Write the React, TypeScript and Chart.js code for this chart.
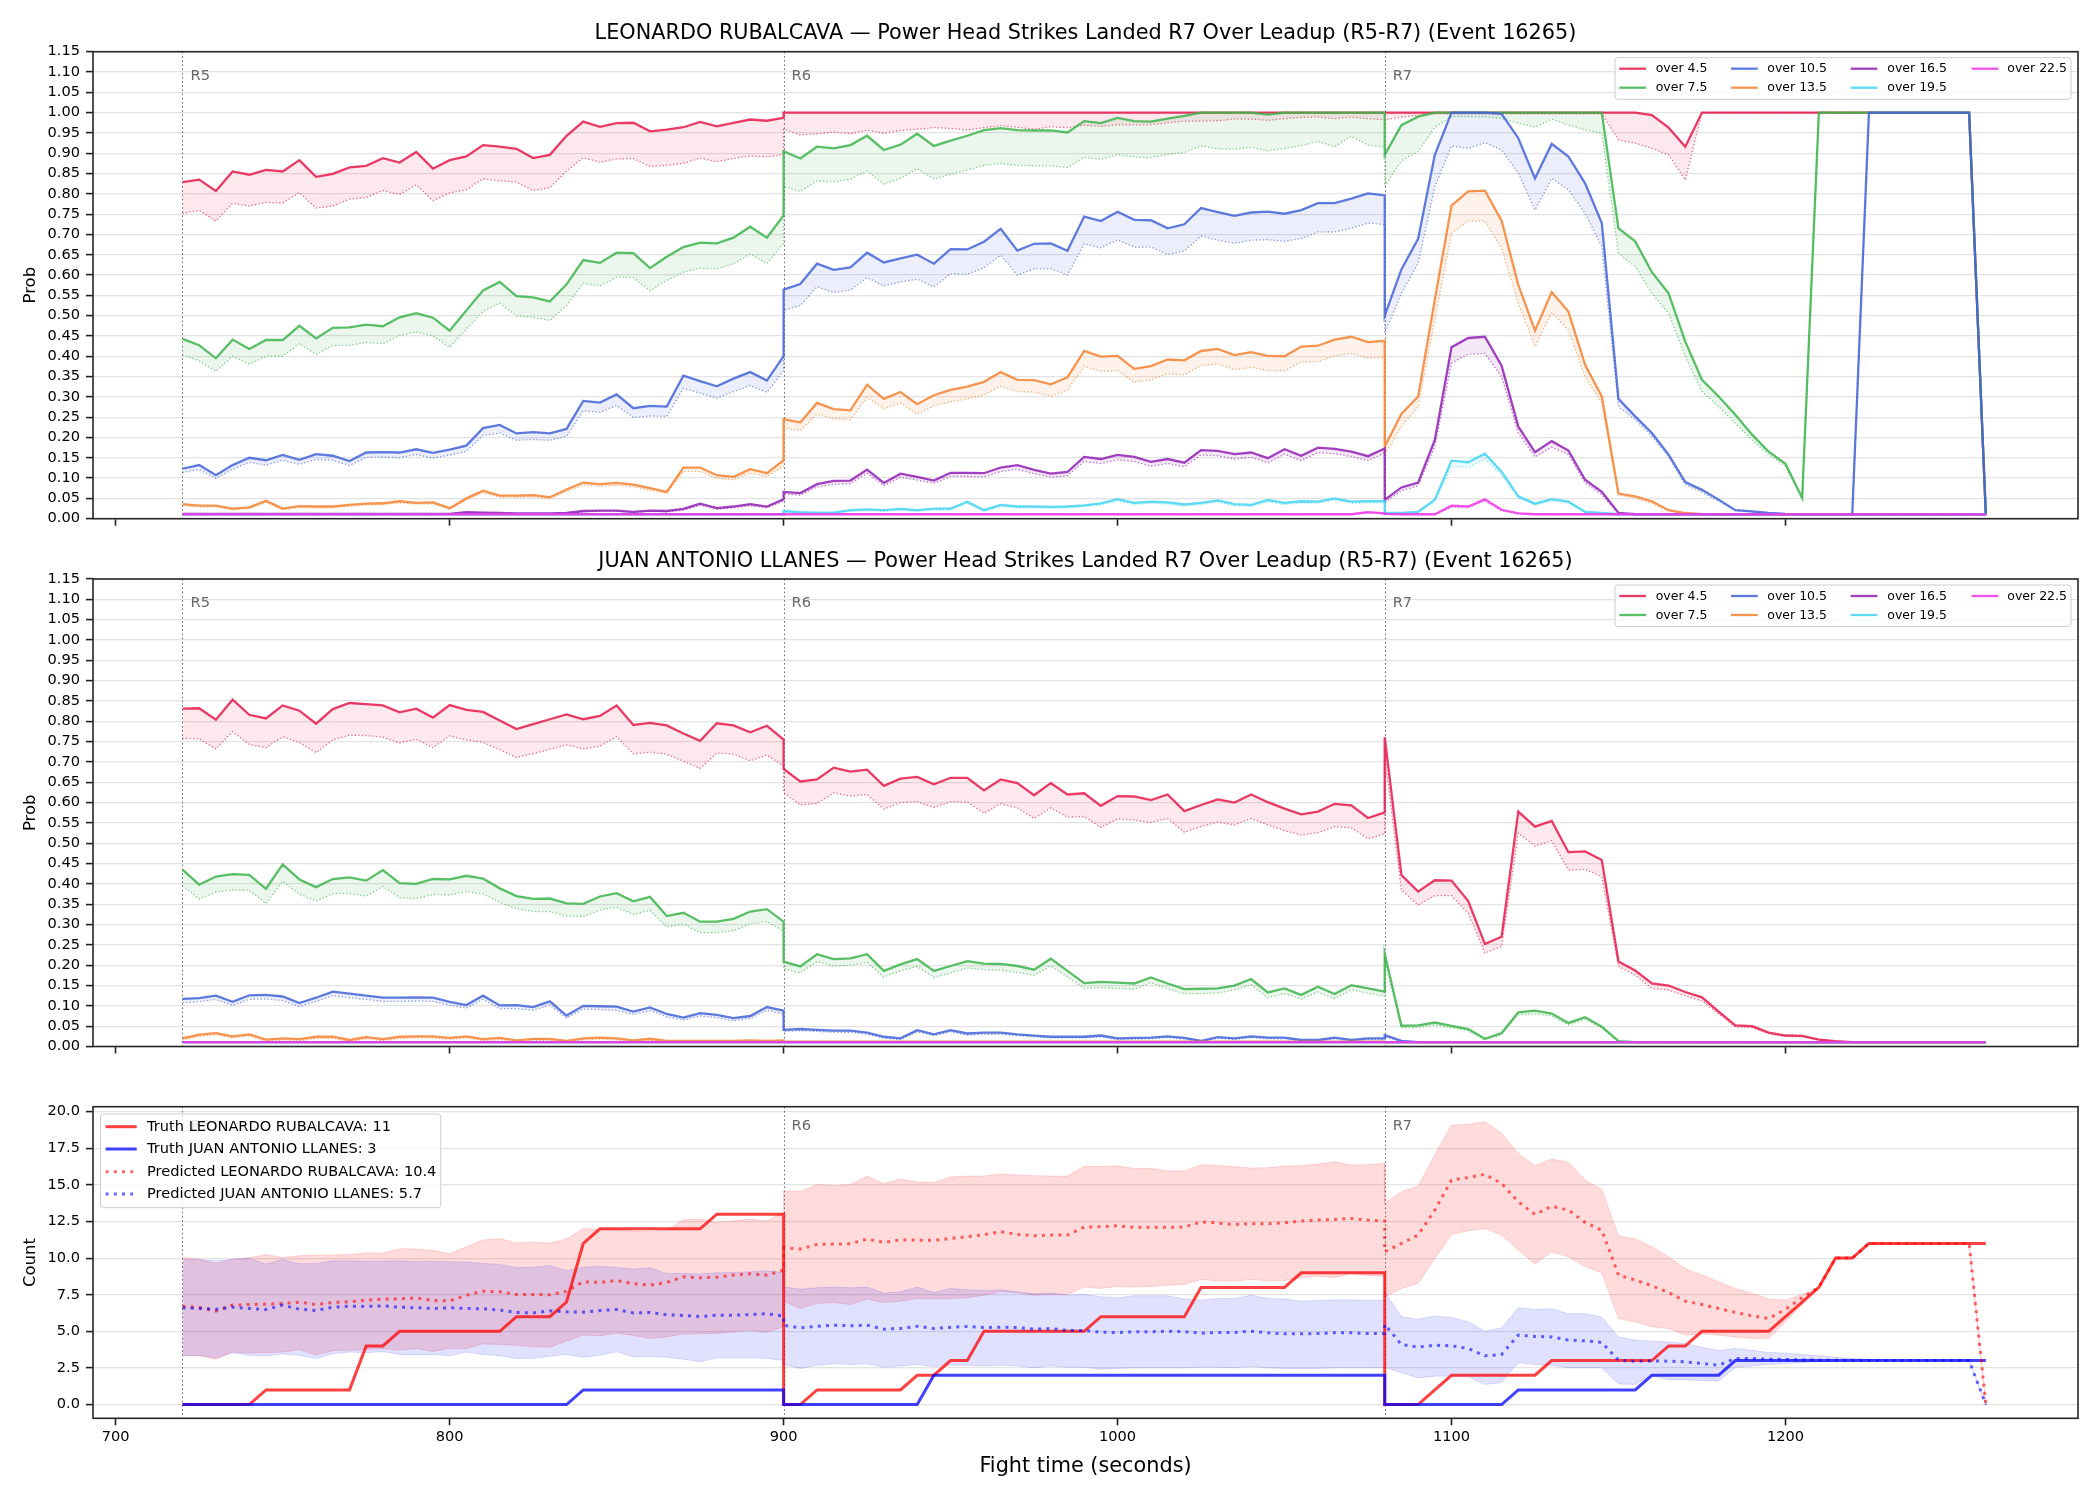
import React, { useEffect, useRef } from "react";
import { Chart, registerables } from "chart.js";
Chart.register(...registerables);

// ---------------- helpers ----------------
const rep = (v: number, n: number): number[] => Array.from({ length: n }, () => v);

// ---------------- x grid / labels ----------------
const FIGHTER_A = "LEONARDO RUBALCAVA";
const FIGHTER_B = "JUAN ANTONIO LLANES";
const TITLE_SUFFIX = "Power Head Strikes Landed R7 Over Leadup (R5-R7) (Event 16265)";
const ROUND_STARTS = [720, 900, 1080];
const ROUND_LABELS = ["R5", "R6", "R7"];
const STEP_SEC = 5;
const POINTS_PER_ROUND = 37;
const TIMES: number[] = [];
ROUND_STARTS.forEach((s) => {
  for (let i = 0; i < POINTS_PER_ROUND; i++) TIMES.push(s + i * STEP_SEC);
});
const X_TICKS = [700, 800, 900, 1000, 1100, 1200];
const PROB_TICKS = [0, 0.05, 0.1, 0.15, 0.2, 0.25, 0.3, 0.35, 0.4, 0.45, 0.5, 0.55, 0.6, 0.65, 0.7, 0.75, 0.8, 0.85, 0.9, 0.95, 1.0, 1.05, 1.1, 1.15];
const COUNT_TICKS = [0, 2.5, 5, 7.5, 10, 12.5, 15, 17.5, 20];

const SERIES_LABELS = ["over 4.5", "over 7.5", "over 10.5", "over 13.5", "over 16.5", "over 19.5", "over 22.5"];
const SERIES_COLORS = ["#e6194B", "#3cb44b", "#4363d8", "#f58231", "#911eb4", "#42d4f4", "#f032e6"];

// ---------------- Panel 1: LEONARDO RUBALCAVA (R5 | R6 | R7) ----------------
const LEO_O45_HI = [
  0.829, 0.835, 0.807, 0.855, 0.847, 0.859, 0.855, 0.883, 0.842, 0.849, 0.865, 0.869, 0.888, 0.877, 0.903, 0.862, 0.883, 0.892, 0.920, 0.916, 0.911, 0.888, 0.896, 0.943, 0.978, 0.965, 0.974, 0.975, 0.954, 0.958, 0.964, 0.977, 0.966, 0.975, 0.983, 0.980, 0.987,
  ...rep(1.0, 37),
  ...rep(1.0, 16), 0.994, 0.963, 0.916, ...rep(1.0, 17), 0.01,
];
const LEO_O45_LO = [
  0.752, 0.759, 0.733, 0.777, 0.770, 0.779, 0.777, 0.803, 0.765, 0.770, 0.787, 0.791, 0.808, 0.798, 0.822, 0.783, 0.802, 0.810, 0.837, 0.832, 0.829, 0.808, 0.815, 0.856, 0.889, 0.878, 0.886, 0.887, 0.867, 0.870, 0.875, 0.888, 0.879, 0.887, 0.893, 0.891, 0.897,
  0.959, 0.945, 0.948, 0.952, 0.948, 0.957, 0.949, 0.956, 0.959, 0.963, 0.961, 0.957, 0.963, 0.968, 0.964, 0.959, 0.965, 0.963, 0.969, 0.966, 0.970, 0.970, 0.970, 0.975, 0.979, 0.979, 0.980, 0.984, 0.984, 0.981, 0.985, 0.988, 0.989, 0.985, 0.989, 0.985, 0.982,
  0.982, 0.989, 0.993, ...rep(0.997, 11), 0.933, 0.925, 0.912, 0.896, 0.834, ...rep(1.0, 17), 0.01,
];
const LEO_O75_HI = [
  0.443, 0.427, 0.395, 0.441, 0.418, 0.440, 0.440, 0.475, 0.444, 0.470, 0.471, 0.478, 0.474, 0.496, 0.506, 0.495, 0.463, 0.513, 0.562, 0.583, 0.548, 0.545, 0.535, 0.577, 0.637, 0.630, 0.655, 0.654, 0.617, 0.645, 0.669, 0.680, 0.678, 0.692, 0.719, 0.692, 0.747,
  0.905, 0.887, 0.916, 0.912, 0.920, 0.943, 0.908, 0.921, 0.948, 0.918, 0.931, 0.943, 0.957, 0.962, 0.957, 0.956, 0.956, 0.951, 0.979, 0.974, 0.987, 0.979, 0.978, 0.985, 0.992, 1.0, 1.0, 1.0, 1.0, 0.995, 1.0, 1.0, 1.0, 1.0, 1.0, 1.0, 1.0,
  0.896, 0.969, 0.990, ...rep(1.0, 11), 0.715, 0.683, 0.607, 0.555, 0.436, 0.342, 0.301, 0.256, 0.207, 0.165, 0.135, 0.051, ...rep(1.0, 10), 0.01,
];
const LEO_O75_LO = [
  0.403, 0.389, 0.363, 0.400, 0.381, 0.400, 0.400, 0.431, 0.405, 0.427, 0.427, 0.434, 0.431, 0.451, 0.460, 0.450, 0.422, 0.467, 0.510, 0.531, 0.499, 0.496, 0.488, 0.525, 0.580, 0.573, 0.595, 0.594, 0.561, 0.587, 0.607, 0.617, 0.615, 0.628, 0.652, 0.628, 0.678,
  0.818, 0.806, 0.832, 0.829, 0.836, 0.856, 0.824, 0.838, 0.862, 0.836, 0.848, 0.859, 0.870, 0.875, 0.870, 0.869, 0.869, 0.865, 0.890, 0.885, 0.897, 0.891, 0.889, 0.897, 0.902, 0.918, 0.911, 0.910, 0.915, 0.906, 0.912, 0.919, 0.929, 0.916, 0.942, 0.920, 0.915,
  0.818, 0.882, 0.904, 0.964, 0.990, 0.990, 0.989, 0.986, 0.974, 0.964, 0.984, 0.970, 0.957, 0.949, 0.654, 0.621, 0.555, 0.506, 0.400, 0.313, 0.276, 0.235, 0.194, 0.158, 0.129, 0.051, ...rep(1.0, 10), 0.01,
];
const LEO_O105_HI = [
  0.123, 0.132, 0.107, 0.132, 0.150, 0.144, 0.157, 0.145, 0.159, 0.155, 0.142, 0.163, 0.164, 0.163, 0.171, 0.162, 0.170, 0.180, 0.223, 0.231, 0.210, 0.213, 0.210, 0.221, 0.290, 0.286, 0.306, 0.272, 0.278, 0.276, 0.352, 0.339, 0.326, 0.345, 0.361, 0.340, 0.400,
  0.564, 0.578, 0.628, 0.613, 0.619, 0.655, 0.631, 0.641, 0.650, 0.628, 0.664, 0.663, 0.682, 0.714, 0.660, 0.677, 0.678, 0.660, 0.744, 0.733, 0.756, 0.736, 0.735, 0.715, 0.725, 0.765, 0.755, 0.746, 0.754, 0.756, 0.751, 0.760, 0.777, 0.777, 0.788, 0.801, 0.796,
  0.500, 0.614, 0.689, 0.896, 1.0, 1.0, 1.0, 0.997, 0.937, 0.838, 0.923, 0.892, 0.826, 0.728, 0.295, 0.252, 0.211, 0.158, 0.090, 0.071, 0.047, 0.021, 0.018, 0.014, 0.012, 0.011, 0.011, 0.011, 0.011, ...rep(1.0, 7), 0.01,
];
const LEO_O105_LO = [
  0.114, 0.121, 0.099, 0.122, 0.139, 0.132, 0.144, 0.134, 0.146, 0.144, 0.131, 0.151, 0.152, 0.150, 0.158, 0.149, 0.157, 0.166, 0.205, 0.211, 0.193, 0.195, 0.193, 0.203, 0.266, 0.262, 0.279, 0.249, 0.253, 0.252, 0.321, 0.309, 0.297, 0.313, 0.328, 0.311, 0.365,
  0.513, 0.525, 0.571, 0.557, 0.563, 0.594, 0.573, 0.583, 0.590, 0.571, 0.603, 0.602, 0.618, 0.649, 0.600, 0.615, 0.616, 0.600, 0.677, 0.667, 0.687, 0.669, 0.669, 0.651, 0.659, 0.696, 0.686, 0.678, 0.686, 0.687, 0.683, 0.690, 0.706, 0.706, 0.715, 0.728, 0.724,
  0.457, 0.555, 0.629, 0.818, 0.918, 0.912, 0.926, 0.908, 0.851, 0.760, 0.838, 0.810, 0.752, 0.670, 0.276, 0.244, 0.203, 0.153, 0.084, 0.065, 0.043, 0.020, 0.016, 0.013, 0.011, 0.010, 0.010, 0.010, 0.010, ...rep(1.0, 7), 0.01,
];
const LEO_O135_HI = [
  0.036, 0.032, 0.032, 0.025, 0.028, 0.044, 0.025, 0.031, 0.030, 0.030, 0.034, 0.037, 0.038, 0.043, 0.039, 0.040, 0.026, 0.050, 0.069, 0.057, 0.057, 0.058, 0.053, 0.072, 0.089, 0.085, 0.088, 0.084, 0.075, 0.066, 0.126, 0.126, 0.107, 0.103, 0.122, 0.112, 0.144,
  0.245, 0.237, 0.285, 0.270, 0.267, 0.330, 0.295, 0.312, 0.282, 0.304, 0.317, 0.325, 0.337, 0.361, 0.342, 0.341, 0.331, 0.348, 0.413, 0.399, 0.401, 0.369, 0.376, 0.392, 0.390, 0.413, 0.418, 0.403, 0.410, 0.401, 0.400, 0.424, 0.426, 0.441, 0.448, 0.435, 0.438,
  0.178, 0.258, 0.301, 0.539, 0.771, 0.806, 0.808, 0.734, 0.576, 0.463, 0.558, 0.510, 0.379, 0.301, 0.062, 0.055, 0.043, 0.021, 0.014, ...rep(0.011, 17), 0.01,
];
const LEO_O135_LO = [
  0.032, 0.029, 0.029, 0.022, 0.025, 0.040, 0.022, 0.028, 0.027, 0.027, 0.031, 0.034, 0.035, 0.039, 0.036, 0.036, 0.023, 0.046, 0.064, 0.053, 0.053, 0.054, 0.049, 0.067, 0.083, 0.080, 0.082, 0.079, 0.070, 0.062, 0.116, 0.117, 0.099, 0.096, 0.113, 0.104, 0.130,
  0.223, 0.217, 0.258, 0.246, 0.244, 0.299, 0.271, 0.285, 0.258, 0.278, 0.288, 0.295, 0.305, 0.326, 0.313, 0.312, 0.301, 0.317, 0.375, 0.363, 0.365, 0.336, 0.342, 0.357, 0.354, 0.377, 0.381, 0.367, 0.373, 0.365, 0.364, 0.386, 0.387, 0.401, 0.407, 0.395, 0.398,
  0.158, 0.227, 0.276, 0.490, 0.703, 0.733, 0.733, 0.666, 0.531, 0.424, 0.508, 0.465, 0.350, 0.285, 0.057, 0.051, 0.037, 0.019, 0.013, ...rep(0.010, 18),
];
const LEO_O165_HI = [
  ...rep(0.012, 17), 0.016, 0.015, 0.014, 0.013, 0.013, 0.013, 0.014, 0.019, 0.020, 0.020, 0.017, 0.020, 0.019, 0.024, 0.037, 0.026, 0.030, 0.036, 0.030, 0.048,
  0.066, 0.063, 0.085, 0.093, 0.094, 0.121, 0.088, 0.111, 0.103, 0.094, 0.113, 0.113, 0.112, 0.126, 0.132, 0.120, 0.111, 0.115, 0.152, 0.147, 0.157, 0.152, 0.140, 0.147, 0.138, 0.169, 0.167, 0.159, 0.163, 0.149, 0.171, 0.155, 0.175, 0.172, 0.165, 0.154, 0.173,
  0.046, 0.077, 0.089, 0.194, 0.422, 0.445, 0.448, 0.377, 0.227, 0.164, 0.191, 0.168, 0.096, 0.066, 0.014, ...rep(0.011, 21), 0.01,
];
const LEO_O165_LO = [
  ...rep(0.011, 17), 0.014, 0.013, 0.012, 0.012, 0.012, 0.012, 0.013, 0.017, 0.018, 0.018, 0.015, 0.018, 0.017, 0.021, 0.033, 0.023, 0.027, 0.032, 0.027, 0.043,
  0.061, 0.058, 0.078, 0.085, 0.086, 0.112, 0.081, 0.102, 0.095, 0.087, 0.104, 0.104, 0.103, 0.116, 0.122, 0.111, 0.102, 0.106, 0.141, 0.136, 0.145, 0.141, 0.129, 0.136, 0.128, 0.157, 0.155, 0.147, 0.151, 0.138, 0.159, 0.143, 0.163, 0.160, 0.153, 0.143, 0.162,
  0.039, 0.069, 0.081, 0.178, 0.383, 0.405, 0.407, 0.350, 0.211, 0.152, 0.176, 0.158, 0.088, 0.059, 0.013, ...rep(0.010, 22),
];
const LEO_O195_HI = [
  ...rep(0.011, 37),
  0.019, 0.016, 0.015, 0.015, 0.021, 0.023, 0.021, 0.024, 0.021, 0.025, 0.025, 0.042, 0.021, 0.034, 0.030, 0.030, 0.029, 0.030, 0.033, 0.038, 0.048, 0.039, 0.042, 0.040, 0.035, 0.039, 0.045, 0.036, 0.034, 0.046, 0.039, 0.043, 0.042, 0.050, 0.042, 0.043, 0.043,
  0.014, 0.014, 0.017, 0.047, 0.143, 0.139, 0.160, 0.116, 0.055, 0.037, 0.048, 0.042, 0.017, 0.014, ...rep(0.011, 22), 0.01,
];
const LEO_O195_LO = [
  ...rep(0.010, 37),
  0.016, 0.014, 0.013, 0.013, 0.018, 0.020, 0.018, 0.021, 0.018, 0.022, 0.022, 0.038, 0.018, 0.030, 0.027, 0.027, 0.026, 0.027, 0.030, 0.034, 0.044, 0.035, 0.038, 0.036, 0.031, 0.035, 0.041, 0.032, 0.030, 0.042, 0.035, 0.039, 0.038, 0.046, 0.038, 0.039, 0.039,
  0.012, 0.012, 0.015, 0.042, 0.129, 0.127, 0.147, 0.108, 0.051, 0.034, 0.044, 0.039, 0.015, 0.012, ...rep(0.010, 23),
];
const LEO_O225_HI = [
  ...rep(0.011, 37),
  ...rep(0.011, 35), 0.016, 0.013,
  0.012, 0.011, 0.011, 0.011, 0.032, 0.030, 0.048, 0.022, 0.013, ...rep(0.011, 27), 0.01,
];
const LEO_O225_LO = [
  ...rep(0.010, 37),
  ...rep(0.010, 35), 0.014, 0.012,
  0.011, 0.010, 0.010, 0.010, 0.028, 0.027, 0.043, 0.019, 0.012, ...rep(0.010, 28),
];

// ---------------- Panel 2: JUAN ANTONIO LLANES (R5 | R6 | R7) ----------------
const JUA_O45_HI = [
  0.831, 0.832, 0.804, 0.853, 0.816, 0.807, 0.839, 0.826, 0.794, 0.830, 0.845, 0.842, 0.839, 0.822, 0.831, 0.809, 0.840, 0.828, 0.823, 0.802, 0.781, 0.793, 0.805, 0.817, 0.805, 0.813, 0.839, 0.791, 0.796, 0.790, 0.770, 0.752, 0.795, 0.790, 0.773, 0.789, 0.755,
  0.683, 0.652, 0.657, 0.686, 0.676, 0.681, 0.641, 0.659, 0.663, 0.645, 0.661, 0.661, 0.630, 0.657, 0.648, 0.618, 0.648, 0.620, 0.623, 0.592, 0.616, 0.615, 0.606, 0.620, 0.579, 0.594, 0.608, 0.600, 0.620, 0.601, 0.585, 0.571, 0.578, 0.597, 0.593, 0.562, 0.576,
  0.761, 0.422, 0.381, 0.409, 0.408, 0.358, 0.252, 0.270, 0.578, 0.541, 0.555, 0.478, 0.480, 0.459, 0.209, 0.187, 0.155, 0.150, 0.134, 0.121, 0.086, 0.052, 0.050, 0.034, 0.027, 0.026, 0.017, 0.013, ...rep(0.011, 9),
];
const JUA_O45_LO = [
  0.758, 0.757, 0.732, 0.775, 0.743, 0.735, 0.762, 0.748, 0.723, 0.754, 0.766, 0.765, 0.761, 0.747, 0.756, 0.735, 0.764, 0.754, 0.748, 0.730, 0.711, 0.720, 0.731, 0.742, 0.732, 0.739, 0.762, 0.720, 0.724, 0.719, 0.702, 0.684, 0.722, 0.719, 0.703, 0.717, 0.689,
  0.625, 0.594, 0.598, 0.624, 0.616, 0.620, 0.584, 0.600, 0.602, 0.588, 0.602, 0.601, 0.574, 0.597, 0.587, 0.561, 0.587, 0.564, 0.566, 0.539, 0.560, 0.557, 0.551, 0.561, 0.527, 0.541, 0.552, 0.545, 0.561, 0.545, 0.531, 0.520, 0.526, 0.541, 0.538, 0.511, 0.523,
  0.710, 0.385, 0.348, 0.371, 0.371, 0.328, 0.230, 0.246, 0.525, 0.493, 0.506, 0.434, 0.436, 0.418, 0.197, 0.176, 0.143, 0.139, 0.125, 0.112, 0.080, 0.048, 0.047, 0.031, 0.025, 0.024, 0.016, 0.012, ...rep(0.010, 9),
];
const JUA_O75_HI = [
  0.435, 0.398, 0.418, 0.424, 0.422, 0.388, 0.448, 0.411, 0.392, 0.412, 0.416, 0.408, 0.434, 0.402, 0.400, 0.412, 0.411, 0.420, 0.413, 0.389, 0.370, 0.363, 0.364, 0.352, 0.351, 0.369, 0.377, 0.357, 0.368, 0.321, 0.329, 0.307, 0.307, 0.314, 0.332, 0.338, 0.307,
  0.209, 0.197, 0.227, 0.215, 0.217, 0.227, 0.186, 0.202, 0.215, 0.186, 0.198, 0.210, 0.204, 0.203, 0.198, 0.189, 0.216, 0.186, 0.156, 0.159, 0.157, 0.155, 0.170, 0.155, 0.141, 0.142, 0.143, 0.150, 0.166, 0.133, 0.143, 0.127, 0.147, 0.129, 0.151, 0.143, 0.135,
  0.228, 0.051, 0.052, 0.059, 0.051, 0.043, 0.019, 0.033, 0.084, 0.088, 0.081, 0.058, 0.072, 0.049, 0.013, ...rep(0.011, 22),
];
const JUA_O75_LO = [
  0.396, 0.363, 0.380, 0.385, 0.384, 0.352, 0.406, 0.375, 0.358, 0.376, 0.377, 0.370, 0.394, 0.366, 0.364, 0.374, 0.373, 0.381, 0.375, 0.355, 0.339, 0.332, 0.332, 0.321, 0.320, 0.336, 0.343, 0.325, 0.335, 0.294, 0.301, 0.280, 0.280, 0.285, 0.302, 0.307, 0.284,
  0.191, 0.181, 0.209, 0.198, 0.200, 0.207, 0.171, 0.186, 0.197, 0.170, 0.181, 0.193, 0.189, 0.188, 0.182, 0.175, 0.198, 0.172, 0.143, 0.145, 0.143, 0.141, 0.157, 0.142, 0.130, 0.130, 0.132, 0.139, 0.152, 0.120, 0.130, 0.117, 0.134, 0.118, 0.139, 0.131, 0.124,
  0.210, 0.046, 0.047, 0.053, 0.046, 0.039, 0.016, 0.029, 0.078, 0.080, 0.075, 0.053, 0.067, 0.045, 0.012, ...rep(0.010, 22),
];
const JUA_O105_HI = [
  0.117, 0.119, 0.125, 0.110, 0.126, 0.127, 0.123, 0.107, 0.120, 0.135, 0.130, 0.125, 0.120, 0.120, 0.121, 0.120, 0.110, 0.102, 0.125, 0.101, 0.102, 0.097, 0.111, 0.076, 0.100, 0.099, 0.098, 0.086, 0.096, 0.080, 0.071, 0.082, 0.078, 0.070, 0.075, 0.097, 0.088,
  0.041, 0.043, 0.041, 0.039, 0.039, 0.034, 0.024, 0.020, 0.040, 0.030, 0.040, 0.032, 0.034, 0.034, 0.030, 0.027, 0.024, 0.024, 0.024, 0.027, 0.020, 0.021, 0.022, 0.025, 0.021, 0.014, 0.023, 0.020, 0.025, 0.022, 0.022, 0.016, 0.016, 0.022, 0.016, 0.020, 0.020,
  0.028, 0.014, ...rep(0.011, 35),
];
const JUA_O105_LO = [
  0.108, 0.110, 0.116, 0.101, 0.116, 0.117, 0.113, 0.098, 0.111, 0.125, 0.120, 0.116, 0.111, 0.111, 0.112, 0.111, 0.102, 0.094, 0.116, 0.093, 0.093, 0.089, 0.102, 0.070, 0.092, 0.091, 0.089, 0.079, 0.088, 0.073, 0.065, 0.075, 0.071, 0.063, 0.069, 0.089, 0.080,
  0.037, 0.039, 0.037, 0.035, 0.035, 0.030, 0.021, 0.017, 0.036, 0.027, 0.036, 0.028, 0.030, 0.030, 0.027, 0.024, 0.021, 0.021, 0.021, 0.024, 0.017, 0.018, 0.019, 0.022, 0.018, 0.012, 0.020, 0.017, 0.022, 0.019, 0.019, 0.014, 0.014, 0.019, 0.014, 0.017, 0.017,
  0.024, 0.012, ...rep(0.010, 35),
];
const JUA_O135_HI = [
  0.020, 0.029, 0.033, 0.025, 0.030, 0.017, 0.020, 0.018, 0.024, 0.024, 0.016, 0.023, 0.018, 0.024, 0.025, 0.025, 0.021, 0.025, 0.018, 0.021, 0.015, 0.019, 0.019, 0.014, 0.020, 0.022, 0.020, 0.015, 0.019, 0.014, 0.014, 0.014, 0.014, 0.014, 0.015, 0.014, 0.015,
  ...rep(0.012, 37),
  ...rep(0.011, 37),
];
const JUA_O135_LO = [
  0.016, 0.025, 0.029, 0.021, 0.026, 0.013, 0.016, 0.014, 0.020, 0.020, 0.012, 0.019, 0.014, 0.020, 0.021, 0.021, 0.017, 0.021, 0.014, 0.017, 0.011, 0.015, 0.015, 0.011, 0.016, 0.018, 0.016, 0.011, 0.015, 0.011, 0.011, 0.011, 0.011, 0.011, 0.012, 0.011, 0.012,
  ...rep(0.010, 37),
  ...rep(0.010, 37),
];
const JUA_O165_HI = [...rep(0.011, 37), ...rep(0.011, 37), ...rep(0.011, 37)];
const JUA_O165_LO = [...rep(0.010, 37), ...rep(0.010, 37), ...rep(0.010, 37)];
const JUA_O195_HI = [...rep(0.011, 37), ...rep(0.011, 37), ...rep(0.011, 37)];
const JUA_O195_LO = [...rep(0.010, 37), ...rep(0.010, 37), ...rep(0.010, 37)];
const JUA_O225_HI = [...rep(0.011, 37), ...rep(0.011, 37), ...rep(0.011, 37)];
const JUA_O225_LO = [...rep(0.010, 37), ...rep(0.010, 37), ...rep(0.010, 37)];

// ---------------- Panel 3: counts ----------------
const TRUTH_A = [
  0, 0, 0, 0, 0, 1, 1, 1, 1, 1, 1, 4, 4, 5, 5, 5, 5, 5, 5, 5, 6, 6, 6, 7, 11, 12, 12, 12, 12, 12, 12, 12, 13, 13, 13, 13, 13,
  0, 0, 1, 1, 1, 1, 1, 1, 2, 2, 3, 3, 5, 5, 5, 5, 5, 5, 5, 6, 6, 6, 6, 6, 6, 8, 8, 8, 8, 8, 8, 9, 9, 9, 9, 9, 9,
  0, 0, 0, 1, 2, 2, 2, 2, 2, 2, 3, 3, 3, 3, 3, 3, 3, 4, 4, 5, 5, 5, 5, 5, 6, 7, 8, 10, 10, 11, 11, 11, 11, 11, 11, 11, 11,
];
const TRUTH_B = [
  ...rep(0, 24), ...rep(1, 13),
  ...rep(0, 9), ...rep(2, 28),
  ...rep(0, 8), ...rep(1, 8), ...rep(2, 5), ...rep(3, 16),
];
const PRED_A = [
  6.70, 6.63, 6.38, 6.79, 6.83, 6.86, 6.90, 6.99, 6.83, 6.97, 7.02, 7.13, 7.20, 7.22, 7.27, 7.11, 7.08, 7.47, 7.74, 7.70, 7.52, 7.52, 7.49, 7.74, 8.38, 8.34, 8.47, 8.25, 8.15, 8.34, 8.72, 8.66, 8.70, 8.84, 8.93, 8.84, 9.18,
  10.71, 10.62, 10.93, 10.96, 10.98, 11.30, 11.07, 11.25, 11.23, 11.21, 11.34, 11.46, 11.59, 11.80, 11.62, 11.53, 11.57, 11.57, 12.12, 12.14, 12.21, 12.10, 12.10, 12.10, 12.12, 12.48, 12.39, 12.30, 12.35, 12.35, 12.41, 12.53, 12.60, 12.64, 12.71, 12.60, 12.53,
  10.43, 11.00, 11.57, 13.28, 15.33, 15.50, 15.72, 15.10, 13.85, 12.98, 13.55, 13.28, 12.44, 11.91, 8.84, 8.50, 8.11, 7.65, 7.06, 6.83, 6.56, 6.29, 6.06, 5.88, 6.50, 7.30, 8.00, 10, 10, 11, 11, 11, 11, 11, 11, 11, 0,
];
const PRED_A_HI = [
  10.05, 9.93, 9.64, 9.93, 10.02, 10.25, 10.05, 10.16, 10.21, 10.21, 10.25, 10.36, 10.34, 10.64, 10.62, 10.52, 10.30, 10.77, 11.23, 11.34, 11.03, 11.09, 11.03, 11.30, 12.03, 11.96, 11.94, 11.85, 11.80, 11.91, 12.62, 12.67, 12.44, 12.55, 12.67, 12.53, 13.12,
  14.58, 14.56, 15.03, 14.94, 15.03, 15.60, 15.08, 15.40, 15.19, 15.17, 15.54, 15.60, 15.60, 15.74, 15.67, 15.63, 15.60, 15.60, 16.26, 16.26, 16.29, 16.13, 16.13, 15.95, 15.95, 16.38, 16.33, 16.24, 16.15, 16.17, 16.29, 16.31, 16.42, 16.58, 16.36, 16.38, 16.47,
  13.74, 14.53, 14.94, 17.04, 19.09, 19.13, 19.32, 18.52, 17.15, 16.31, 16.77, 16.54, 15.33, 14.69, 11.53, 11.30, 10.77, 10.09, 9.29, 8.84, 8.38, 7.93, 7.59, 7.20, 7.13, 7.52, 8.00, 10, 10, 11, 11, 11, 11, 11, 11, 11, 0,
];
const PRED_A_LO = [
  3.37, 3.33, 3.10, 3.58, 3.53, 3.55, 3.58, 3.74, 3.39, 3.67, 3.71, 3.76, 3.83, 3.71, 3.83, 3.62, 3.83, 3.83, 4.15, 4.10, 4.05, 3.94, 3.92, 4.33, 4.74, 4.69, 4.87, 4.72, 4.51, 4.62, 4.81, 4.83, 4.85, 4.97, 5.08, 4.94, 5.31,
  7.06, 6.56, 6.90, 6.97, 6.83, 7.20, 6.97, 7.06, 7.24, 7.24, 7.24, 7.29, 7.47, 7.70, 7.63, 7.47, 7.52, 7.52, 8.02, 7.93, 8.06, 8.02, 8.06, 8.15, 8.20, 8.54, 8.45, 8.43, 8.54, 8.45, 8.47, 8.66, 8.77, 8.66, 8.95, 8.79, 8.77,
  7.36, 7.93, 8.27, 9.98, 11.62, 11.87, 12.03, 11.57, 10.55, 9.59, 10.43, 10.09, 9.41, 9.00, 5.88, 5.65, 5.31, 5.19, 4.74, 4.83, 4.74, 4.62, 4.51, 4.51, 5.65, 6.83, 8.00, 10, 10, 11, 11, 11, 11, 11, 11, 11, 0,
];
const PRED_B = [
  6.61, 6.56, 6.51, 6.65, 6.56, 6.49, 6.79, 6.51, 6.42, 6.65, 6.72, 6.70, 6.74, 6.65, 6.61, 6.56, 6.61, 6.56, 6.54, 6.45, 6.29, 6.26, 6.40, 6.33, 6.31, 6.42, 6.49, 6.26, 6.29, 6.13, 6.08, 6.01, 6.10, 6.10, 6.15, 6.20, 6.04,
  5.42, 5.24, 5.35, 5.42, 5.38, 5.42, 5.15, 5.19, 5.35, 5.19, 5.28, 5.33, 5.26, 5.28, 5.26, 5.15, 5.19, 5.06, 5.06, 4.94, 4.92, 4.97, 4.97, 5.01, 4.97, 4.87, 4.92, 4.92, 5.01, 4.90, 4.83, 4.83, 4.85, 4.90, 4.90, 4.85, 4.85,
  5.47, 4.10, 3.92, 4.05, 4.01, 3.83, 3.33, 3.42, 4.74, 4.65, 4.62, 4.40, 4.35, 4.24, 3.03, 2.96, 2.98, 2.96, 2.92, 2.80, 2.69, 3.14, 3.14, 3.10, 3.08, 3.05, 3.03, 3.02, 3.01, 3.0, 3.0, 3.0, 3.0, 3.0, 3.0, 3.0, 0,
];
const PRED_B_HI = [
  9.89, 9.89, 9.82, 9.91, 9.98, 9.59, 9.91, 9.61, 9.64, 9.82, 9.82, 9.79, 9.79, 9.82, 9.77, 9.79, 9.75, 9.73, 9.64, 9.57, 9.34, 9.38, 9.50, 9.16, 9.38, 9.45, 9.36, 9.25, 9.34, 8.95, 8.95, 8.91, 9.00, 9.02, 9.07, 9.13, 9.02,
  8.04, 7.88, 7.97, 8.02, 7.97, 8.02, 7.61, 7.70, 8.02, 7.65, 7.93, 7.84, 7.79, 7.84, 7.70, 7.56, 7.61, 7.47, 7.52, 7.36, 7.29, 7.43, 7.43, 7.43, 7.20, 7.13, 7.24, 7.24, 7.47, 7.24, 7.20, 7.06, 7.11, 7.15, 7.15, 7.11, 7.13,
  7.70, 5.99, 5.83, 6.04, 5.95, 5.65, 5.01, 5.24, 6.61, 6.49, 6.54, 6.20, 6.20, 5.97, 4.62, 4.40, 4.33, 4.28, 4.17, 3.92, 3.69, 3.83, 3.71, 3.55, 3.51, 3.42, 3.33, 3.23, 3.14, 3.10, 3.05, 3.0, 3.0, 3.0, 3.0, 3.0, 0,
];
const PRED_B_LO = [
  3.33, 3.35, 3.19, 3.53, 3.37, 3.33, 3.46, 3.37, 3.14, 3.46, 3.58, 3.53, 3.62, 3.42, 3.39, 3.42, 3.33, 3.58, 3.42, 3.33, 3.14, 3.14, 3.30, 3.42, 3.23, 3.37, 3.60, 3.26, 3.28, 3.23, 3.10, 2.92, 3.19, 3.19, 3.19, 3.14, 3.01,
  2.73, 2.46, 2.69, 2.78, 2.73, 2.78, 2.55, 2.64, 2.73, 2.60, 2.69, 2.69, 2.64, 2.69, 2.64, 2.51, 2.64, 2.55, 2.55, 2.41, 2.46, 2.51, 2.51, 2.51, 2.51, 2.55, 2.55, 2.51, 2.60, 2.51, 2.46, 2.46, 2.46, 2.51, 2.51, 2.51, 2.51,
  2.51, 2.19, 1.82, 1.94, 1.94, 1.89, 1.37, 1.50, 2.87, 2.73, 2.69, 2.51, 2.51, 2.51, 1.41, 1.37, 1.96, 1.69, 1.69, 1.64, 1.59, 2.55, 2.64, 2.73, 2.80, 2.87, 2.92, 2.96, 3.0, 3.0, 3.0, 3.0, 3.0, 3.0, 3.0, 3.0, 0,
];
const TRUTH_FINAL = [11, 3];
const PRED_FINAL = [10.4, 5.7];

// ---------------- layout (page px) ----------------
const W = 2100;
const AX_LEFT = 93;
const AX_RIGHT = 2078;
const X_MIN = 693.2;
const X_MAX = 1287.6;
const FONT = "'DejaVu Sans', sans-serif";
const TICK_PX = 14.6;
const PROB_LW = 2.3;

function rgba(hex: string, a: number) {
  const h = hex.replace("#", "");
  const r = parseInt(h.slice(0, 2), 16), g = parseInt(h.slice(2, 4), 16), b = parseInt(h.slice(4, 6), 16);
  return `rgba(${r},${g},${b},${a})`;
}
const pts = (arr: number[]) => TIMES.map((t, k) => ({ x: t, y: arr[k] }));

function probDatasets(his: number[][], los: number[][]) {
  const ds: any[] = [];
  his.forEach((hi, i) => {
    const c = SERIES_COLORS[i];
    ds.push({
      label: SERIES_LABELS[i], data: pts(hi), borderColor: rgba(c, 0.85), borderWidth: PROB_LW,
      pointRadius: 0, tension: 0, fill: "+1", backgroundColor: rgba(c, 0.1), order: 100 - i * 2,
    });
    ds.push({
      label: SERIES_LABELS[i] + " low", data: pts(los[i]), borderColor: rgba(c, 0.65), borderWidth: 1.3,
      borderDash: [1.3, 2.2], pointRadius: 0, tension: 0, fill: false, order: 99 - i * 2,
    });
  });
  return ds;
}

function countDatasets() {
  const band = (c: string, a: number) => ({ borderColor: `rgba(${c},${a})`, borderWidth: 1, pointRadius: 0, tension: 0 });
  return [
    { label: "bandA_hi", data: pts(PRED_A_HI), ...band("255,0,0", 0.14), fill: "+1", backgroundColor: "rgba(255,0,0,0.14)", order: 20 },
    { label: "bandA_lo", data: pts(PRED_A_LO), ...band("255,0,0", 0.14), fill: false, order: 19 },
    { label: "bandB_hi", data: pts(PRED_B_HI), ...band("0,0,255", 0.12), fill: "+1", backgroundColor: "rgba(0,0,255,0.12)", order: 18 },
    { label: "bandB_lo", data: pts(PRED_B_LO), ...band("0,0,255", 0.12), fill: false, order: 17 },
    { label: "truthA", data: pts(TRUTH_A), borderColor: "rgba(255,0,0,0.75)", borderWidth: 3, pointRadius: 0, tension: 0, fill: false, order: 10 },
    { label: "truthB", data: pts(TRUTH_B), borderColor: "rgba(0,0,255,0.75)", borderWidth: 3, pointRadius: 0, tension: 0, fill: false, order: 9 },
    { label: "predA", data: pts(PRED_A), borderColor: "rgba(255,0,0,0.6)", borderWidth: 3, borderDash: [3, 5.2], pointRadius: 0, tension: 0, fill: false, order: 8 },
    { label: "predB", data: pts(PRED_B), borderColor: "rgba(0,0,255,0.6)", borderWidth: 3, borderDash: [3, 5.2], pointRadius: 0, tension: 0, fill: false, order: 7 },
  ];
}

function makeOptions(p: any) {
  return {
    responsive: false,
    animation: false,
    devicePixelRatio: 1,
    events: [],
    layout: { padding: { top: p.areaTop, right: W - AX_RIGHT, left: 0, bottom: 0 } },
    plugins: { legend: { display: false }, tooltip: { enabled: false }, title: { display: false } },
    scales: {
      x: {
        type: "linear", min: X_MIN, max: X_MAX, bounds: "data",
        afterBuildTicks: (s: any) => { s.ticks = X_TICKS.map((v) => ({ value: v })); },
        afterFit: (s: any) => { s.height = p.H - p.areaBottom; },
        grid: { drawOnChartArea: false, drawTicks: true, tickLength: 7, tickColor: "#222", tickWidth: 1.6 },
        border: { display: false },
        ticks: {
          autoSkip: false, maxRotation: 0, minRotation: 0, padding: 3, color: "#000",
          font: { family: FONT, size: TICK_PX },
          callback: (v: any) => (p.xLabels ? String(v) : ""),
        },
      },
      y: {
        type: "linear", min: p.ymin, max: p.ymax, bounds: "data",
        afterBuildTicks: (s: any) => { s.ticks = p.yticks.map((v: number) => ({ value: v })); },
        afterFit: (s: any) => { s.width = AX_LEFT; },
        grid: { color: "#e3e3e3", lineWidth: 1.2, drawTicks: true, tickLength: 7, tickColor: "#222", tickWidth: 1.6 },
        border: { display: false },
        ticks: {
          autoSkip: false, padding: 6, color: "#000",
          font: { family: FONT, size: TICK_PX },
          callback: (v: any) => Number(v).toFixed(p.ydec),
        },
      },
    },
  };
}

function makeDecor(p: any) {
  return {
    id: "decor",
    beforeDatasetsDraw(chart: any) {
      const { ctx, chartArea: a, scales } = chart;
      ctx.save();
      ctx.strokeStyle = "rgba(60,60,60,0.75)";
      ctx.lineWidth = 1;
      ctx.setLineDash([1.6, 2.6]);
      ROUND_STARTS.forEach((s) => {
        const x = Math.round(scales.x.getPixelForValue(s)) + 0.5;
        ctx.beginPath();
        ctx.moveTo(x, a.top);
        ctx.lineTo(x, a.bottom);
        ctx.stroke();
      });
      ctx.restore();
    },
    afterDraw(chart: any) {
      const { ctx, chartArea: a, scales } = chart;
      ctx.save();
      // round labels
      ctx.fillStyle = "#686868";
      ctx.font = `14.6px ${FONT}`;
      ctx.textAlign = "left";
      ctx.textBaseline = "alphabetic";
      ROUND_STARTS.forEach((s, i) => {
        const x = scales.x.getPixelForValue(s) + 8;
        ctx.fillText(ROUND_LABELS[i], x, a.top + p.roundLabelDy);
      });
      // frame
      ctx.strokeStyle = "#262626";
      ctx.lineWidth = 1.6;
      ctx.setLineDash([]);
      ctx.strokeRect(a.left, a.top, a.right - a.left, a.bottom - a.top);
      // title
      ctx.fillStyle = "#000";
      if (p.title) {
        ctx.font = `20.8px ${FONT}`;
        ctx.textAlign = "center";
        ctx.textBaseline = "alphabetic";
        ctx.fillText(p.title, (a.left + a.right) / 2, p.titleY);
      }
      // x label
      if (p.xLabel) {
        ctx.font = `20.8px ${FONT}`;
        ctx.textAlign = "center";
        ctx.textBaseline = "alphabetic";
        ctx.fillText(p.xLabel, (a.left + a.right) / 2, p.xLabelY);
      }
      // y label
      ctx.save();
      ctx.translate(34.5, (a.top + a.bottom) / 2);
      ctx.rotate(-Math.PI / 2);
      ctx.font = `16.5px ${FONT}`;
      ctx.textAlign = "center";
      ctx.textBaseline = "alphabetic";
      ctx.fillText(p.yLabel, 0, 0);
      ctx.restore();
      // legends
      if (p.legend === "prob") {
        const top = a.top + 6;
        ctx.fillStyle = "rgba(255,255,255,0.8)";
        ctx.strokeStyle = "#cccccc";
        ctx.lineWidth = 1;
        ctx.beginPath();
        ctx.roundRect(1615, top, 2071 - 1615, 41.6, 3);
        ctx.fill();
        ctx.stroke();
        const lineX = [1619.3, 1731, 1850.7, 1971.7];
        const textX = [1655.7, 1767.3, 1887.3, 2007.3];
        ctx.font = `12.5px ${FONT}`;
        ctx.textAlign = "left";
        ctx.textBaseline = "middle";
        SERIES_LABELS.forEach((lab, i) => {
          const col = Math.floor(i / 2), row = i % 2;
          const y = a.top + (row === 0 ? 17 : 36);
          ctx.strokeStyle = rgba(SERIES_COLORS[i], 0.85);
          ctx.lineWidth = PROB_LW;
          ctx.beginPath();
          ctx.moveTo(lineX[col], y);
          ctx.lineTo(lineX[col] + 26.7, y);
          ctx.stroke();
          ctx.fillStyle = "#000";
          ctx.fillText(lab, textX[col], y + 0.5);
        });
      } else if (p.legend === "count") {
        const top = a.top + 7.3;
        ctx.fillStyle = "rgba(255,255,255,0.8)";
        ctx.strokeStyle = "#cccccc";
        ctx.lineWidth = 1;
        ctx.beginPath();
        ctx.roundRect(100.5, top, 440.8 - 100.5, 93.7, 3);
        ctx.fill();
        ctx.stroke();
        const entries = [
          { label: `Truth ${FIGHTER_A}: ${TRUTH_FINAL[0]}`, color: "rgba(255,0,0,0.75)", dash: [] as number[] },
          { label: `Truth ${FIGHTER_B}: ${TRUTH_FINAL[1]}`, color: "rgba(0,0,255,0.75)", dash: [] as number[] },
          { label: `Predicted ${FIGHTER_A}: ${PRED_FINAL[0]}`, color: "rgba(255,0,0,0.6)", dash: [3, 5.2] },
          { label: `Predicted ${FIGHTER_B}: ${PRED_FINAL[1]}`, color: "rgba(0,0,255,0.6)", dash: [3, 5.2] },
        ];
        const rows = [20, 42.3, 65, 87.3];
        ctx.font = `14.6px ${FONT}`;
        ctx.textAlign = "left";
        ctx.textBaseline = "middle";
        entries.forEach((e, i) => {
          const y = a.top + rows[i];
          ctx.strokeStyle = e.color;
          ctx.lineWidth = 3;
          ctx.setLineDash(e.dash);
          ctx.beginPath();
          ctx.moveTo(105.6, y);
          ctx.lineTo(136.7, y);
          ctx.stroke();
          ctx.setLineDash([]);
          ctx.fillStyle = "#000";
          ctx.fillText(e.label, 147, y + 0.5);
        });
      }
      ctx.restore();
    },
  };
}

const LEO_HI = [LEO_O45_HI, LEO_O75_HI, LEO_O105_HI, LEO_O135_HI, LEO_O165_HI, LEO_O195_HI, LEO_O225_HI];
const LEO_LO = [LEO_O45_LO, LEO_O75_LO, LEO_O105_LO, LEO_O135_LO, LEO_O165_LO, LEO_O195_LO, LEO_O225_LO];
const JUA_HI = [JUA_O45_HI, JUA_O75_HI, JUA_O105_HI, JUA_O135_HI, JUA_O165_HI, JUA_O195_HI, JUA_O225_HI];
const JUA_LO = [JUA_O45_LO, JUA_O75_LO, JUA_O105_LO, JUA_O135_LO, JUA_O165_LO, JUA_O195_LO, JUA_O225_LO];

const PANELS = [
  { top: 0, H: 545, areaTop: 51.7, areaBottom: 518.7 },
  { top: 545, H: 560, areaTop: 34, areaBottom: 501.5 },
  { top: 1090, H: 410, areaTop: 16.7, areaBottom: 328.3 },
];

export default function App() {
  const r1 = useRef<HTMLCanvasElement>(null);
  const r2 = useRef<HTMLCanvasElement>(null);
  const r3 = useRef<HTMLCanvasElement>(null);

  useEffect(() => {
    const charts: any[] = [];
    const p1 = PANELS[0], p2 = PANELS[1], p3 = PANELS[2];
    charts.push(new Chart(r1.current as any, {
      type: "line",
      data: { datasets: probDatasets(LEO_HI, LEO_LO) },
      options: makeOptions({ ...p1, ymin: 0, ymax: 1.15, yticks: PROB_TICKS, ydec: 2, xLabels: false }) as any,
      plugins: [makeDecor({ title: `${FIGHTER_A} — ${TITLE_SUFFIX}`, titleY: 39.3, yLabel: "Prob", roundLabelDy: 28, legend: "prob" })],
    } as any));
    charts.push(new Chart(r2.current as any, {
      type: "line",
      data: { datasets: probDatasets(JUA_HI, JUA_LO) },
      options: makeOptions({ ...p2, ymin: 0, ymax: 1.15, yticks: PROB_TICKS, ydec: 2, xLabels: false }) as any,
      plugins: [makeDecor({ title: `${FIGHTER_B} — ${TITLE_SUFFIX}`, titleY: 22, yLabel: "Prob", roundLabelDy: 28, legend: "prob" })],
    } as any));
    charts.push(new Chart(r3.current as any, {
      type: "line",
      data: { datasets: countDatasets() },
      options: makeOptions({ ...p3, ymin: -0.94, ymax: 20.34, yticks: COUNT_TICKS, ydec: 1, xLabels: true }) as any,
      plugins: [makeDecor({ yLabel: "Count", xLabel: "Fight time (seconds)", xLabelY: 381.7, roundLabelDy: 23.3, legend: "count" })],
    } as any));
    return () => charts.forEach((c) => c.destroy());
  }, []);

  const cs = (p: any) => ({ position: "absolute" as const, left: 0, top: p.top, width: W, height: p.H, display: "block" });
  return (
    <div style={{ position: "absolute", left: 0, top: 0, width: W, height: 1500, background: "#fff", overflow: "hidden" }}>
      <canvas ref={r1} width={W} height={PANELS[0].H} style={cs(PANELS[0])} />
      <canvas ref={r2} width={W} height={PANELS[1].H} style={cs(PANELS[1])} />
      <canvas ref={r3} width={W} height={PANELS[2].H} style={cs(PANELS[2])} />
    </div>
  );
}
